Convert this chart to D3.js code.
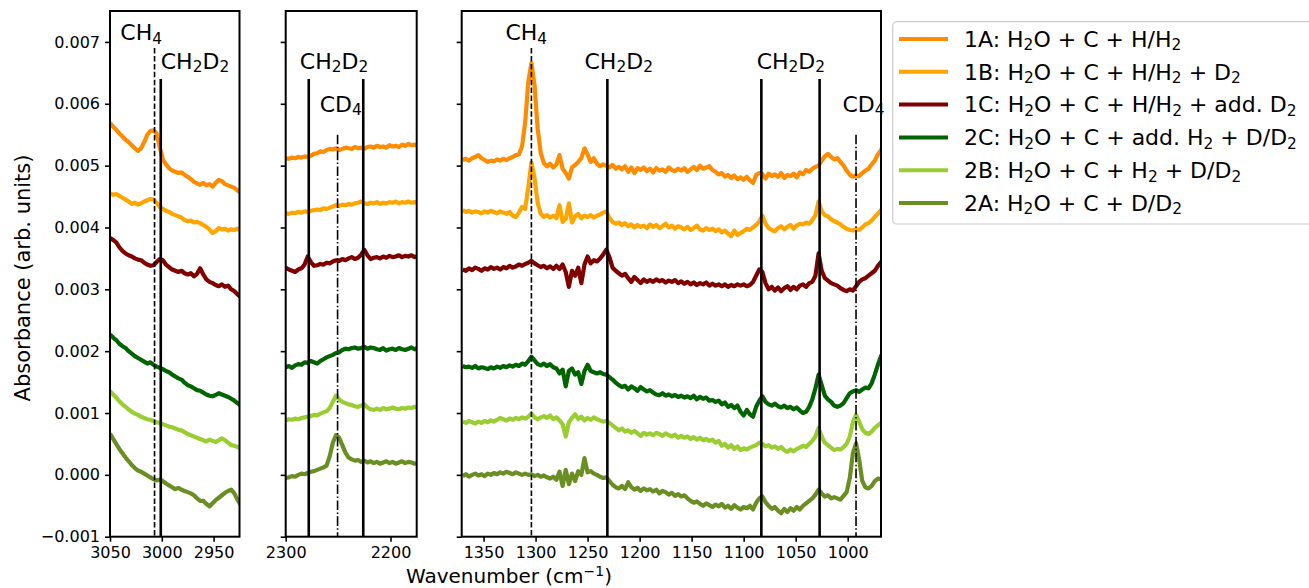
<!DOCTYPE html>
<html>
<head>
<meta charset="utf-8">
<script src="https://cdn.jsdelivr.net/npm/d3@7"></script>
<style>
  body { margin: 0; background: #fff; }
  svg { display: block; }
  text { font-family: "DejaVu Sans", sans-serif; fill: #000; white-space: pre; }
</style>
</head>
<body>
<svg id="chart" width="1309" height="588"></svg>
<script>
// ---------------- DATA (absorbance in units of 1e-3) ----------------
const seriesKeys   = ["1A", "1B", "1C", "2C", "2B", "2A"];
const seriesLabels = [
  "1A: H_{2}O + C + H/H_{2}",
  "1B: H_{2}O + C + H/H_{2} + D_{2}",
  "1C: H_{2}O + C + H/H_{2} + add. D_{2}",
  "2C: H_{2}O + C + add. H_{2} + D/D_{2}",
  "2B: H_{2}O + C + H_{2} + D/D_{2}",
  "2A: H_{2}O + C + D/D_{2}"
];
const absUnit = 1e-3;

// wavenumber grids (cm^-1), 3 cm^-1 spacing
const wn1 = d3.range(3050, 2923, -3);   // 3050 ... 2924
const wn2 = d3.range(2300, 2173, -3);   // 2300 ... 2174
const wn3 = d3.range(1370, 964, -3);    // 1370 ... 965

// Panel 1 (C-H stretch region)
const p1_1A = [5.69,5.63,5.58,5.52,5.47,5.42,5.38,5.33,5.28,5.24, 5.28,5.38,5.50,5.56,5.57,5.52,5.30,5.10,5.02,4.96,
  4.92,4.90,4.88,4.89,4.85,4.82,4.78,4.74,4.71,4.69, 4.72,4.68,4.70,4.66,4.72,4.77,4.75,4.70,4.68,4.66, 4.64,4.60,4.56];
const p1_1B = [4.55,4.53,4.54,4.51,4.48,4.45,4.42,4.38,4.40,4.37, 4.39,4.42,4.44,4.46,4.45,4.40,4.33,4.30,4.27,4.25,
  4.22,4.20,4.18,4.16,4.12,4.10,4.11,4.08,4.09,4.07, 4.04,4.01,3.97,3.91,3.94,3.99,3.97,3.98,3.95,3.97, 3.96,3.98,3.95];
const p1_1C = [3.83,3.80,3.76,3.68,3.62,3.58,3.55,3.53,3.50,3.48, 3.47,3.43,3.40,3.38,3.39,3.44,3.49,3.47,3.40,3.36,
  3.32,3.30,3.28,3.30,3.26,3.24,3.26,3.21,3.25,3.34, 3.24,3.16,3.12,3.10,3.07,3.05,3.08,3.04,3.06,3.00, 2.97,2.92,2.88];
const p1_2C = [2.27,2.22,2.18,2.12,2.08,2.05,2.00,1.96,1.92,1.89, 1.86,1.83,1.80,1.82,1.78,1.75,1.73,1.71,1.68,1.66,
  1.62,1.59,1.56,1.54,1.49,1.45,1.43,1.40,1.37,1.36, 1.33,1.30,1.28,1.27,1.29,1.32,1.30,1.28,1.26,1.23, 1.20,1.16,1.12];
const p1_2B = [1.35,1.30,1.25,1.19,1.14,1.10,1.06,1.02,0.99,0.97, 0.94,0.92,0.90,0.89,0.87,0.85,0.84,0.82,0.80,0.78,
  0.77,0.75,0.73,0.72,0.69,0.66,0.64,0.62,0.60,0.58, 0.56,0.54,0.57,0.55,0.53,0.56,0.59,0.56,0.52,0.48, 0.47,0.45,0.43];
const p1_2A = [0.67,0.58,0.50,0.42,0.35,0.28,0.22,0.16,0.11,0.07, 0.05,0.02,-0.01,-0.04,-0.07,-0.09,-0.08,-0.10,-0.14,-0.17,
  -0.20,-0.23,-0.21,-0.24,-0.26,-0.28,-0.30,-0.33,-0.38,-0.42, -0.42,-0.47,-0.51,-0.46,-0.41,-0.37,-0.33,-0.29,-0.26,-0.24, -0.30,-0.40,-0.48];

// Panel 2 (C-D stretch region)
const p2_1A = [5.12,5.11,5.13,5.12,5.14,5.13,5.15,5.14,5.16,5.19, 5.20,5.23,5.22,5.25,5.27,5.26,5.28,5.25,5.27,5.29,
  5.28,5.27,5.30,5.28,5.29,5.27,5.30,5.31,5.29,5.32, 5.30,5.31,5.29,5.33,5.31,5.32,5.30,5.34,5.32,5.35, 5.33,5.34,5.32];
const p2_1B = [4.23,4.22,4.24,4.23,4.25,4.24,4.26,4.25,4.27,4.28, 4.29,4.28,4.31,4.30,4.32,4.34,4.36,4.35,4.37,4.36,
  4.38,4.37,4.39,4.40,4.42,4.39,4.38,4.40,4.39,4.41, 4.38,4.40,4.39,4.41,4.40,4.42,4.39,4.41,4.40,4.42, 4.40,4.41,4.40];
const p2_1C = [3.35,3.32,3.30,3.28,3.32,3.34,3.40,3.53,3.44,3.38, 3.39,3.41,3.40,3.43,3.42,3.45,3.47,3.46,3.49,3.47,
  3.50,3.52,3.49,3.51,3.56,3.64,3.55,3.49,3.51,3.52, 3.50,3.53,3.51,3.54,3.52,3.53,3.55,3.52,3.54,3.53, 3.55,3.52,3.54];
const p2_2C = [1.74,1.76,1.73,1.77,1.79,1.78,1.82,1.81,1.84,1.82, 1.80,1.84,1.87,1.90,1.92,1.94,1.97,1.98,2.02,2.04,
  2.03,2.05,2.06,2.04,2.05,2.07,2.04,2.06,2.05,2.03, 2.02,2.05,2.01,2.03,2.04,2.02,2.05,2.03,2.02,2.04, 2.06,2.03,2.05];
const p2_2B = [0.88,0.90,0.89,0.91,0.90,0.92,0.93,0.94,0.95,0.97, 0.96,0.99,1.01,1.03,1.08,1.18,1.28,1.22,1.18,1.16,
  1.14,1.13,1.11,1.10,1.12,1.14,1.09,1.06,1.05,1.07, 1.05,1.08,1.06,1.07,1.09,1.07,1.06,1.08,1.07,1.09, 1.08,1.10,1.08];
const p2_2A = [-0.05,-0.04,-0.02,-0.03,0.00,0.02,0.01,0.03,0.05,0.06, 0.08,0.10,0.12,0.15,0.30,0.52,0.64,0.60,0.48,0.36,
  0.28,0.25,0.23,0.24,0.21,0.23,0.20,0.22,0.19,0.21, 0.18,0.20,0.22,0.19,0.21,0.18,0.20,0.22,0.19,0.21, 0.20,0.18,0.19];

// Panel 3 (bending region)
const p3_1A = [5.09,5.11,5.08,5.12,5.14,5.17,5.12,5.09,5.06,5.08, 5.07,5.10,5.08,5.11,5.09,5.12,5.14,5.17,5.18,5.31,
  5.70,6.35,6.66,6.30,5.60,5.20,5.04,4.99,5.03,4.97, 5.02,5.17,4.95,4.88,4.79,4.97,5.01,5.06,5.12,5.28,
  5.18,5.06,5.12,5.03,4.99,5.02,5.00,4.97,5.01,4.95, 4.98,4.94,4.99,4.90,4.97,4.88,4.96,4.93,4.97,4.91,
  4.95,4.89,4.96,4.92,4.94,4.90,4.97,4.93,4.91,4.95, 4.92,4.96,4.90,4.94,4.98,4.93,5.00,4.95,4.97,4.99,
  4.93,4.90,4.86,4.88,4.82,4.85,4.80,4.84,4.78,4.81, 4.77,4.82,4.76,4.72,4.85,4.88,4.86,4.79,4.87,4.83,
  4.86,4.82,4.88,4.80,4.85,4.83,4.87,4.81,4.89,4.86, 4.93,4.90,4.95,4.98,5.00,5.08,5.15,5.19,5.14,5.10,
  5.12,5.06,5.00,4.92,4.85,4.82,4.84,4.83,4.88,4.92, 4.95,5.02,5.08,5.18,5.25,5.38];
const p3_1B = [4.28,4.25,4.27,4.24,4.26,4.25,4.23,4.26,4.24,4.27, 4.25,4.23,4.26,4.24,4.22,4.25,4.19,4.17,4.24,4.33,
  4.30,4.65,5.05,4.80,4.40,4.22,4.17,4.20,4.16,4.19, 4.15,4.36,4.09,4.14,4.39,4.08,4.18,4.22,4.15,4.19,
  4.17,4.20,4.16,4.19,4.21,4.24,4.26,4.15,4.09,4.06, 4.08,4.04,4.07,4.02,4.05,4.00,4.04,4.01,4.03,3.99,
  4.05,4.01,4.04,3.99,4.02,4.06,4.00,4.03,3.98,4.02, 4.00,3.97,4.01,3.96,3.99,4.03,3.97,3.95,3.99,3.96,
  3.98,3.94,3.97,3.92,3.95,3.90,3.86,3.95,3.88,3.91, 3.94,3.98,3.96,4.00,4.04,4.10,4.19,4.06,3.99,3.96,
  3.94,3.99,4.02,3.97,4.01,4.04,3.98,4.03,4.06,4.05, 4.08,4.06,4.12,4.20,4.42,4.26,4.20,4.18,4.13,4.10,
  4.08,4.05,4.01,3.98,3.96,3.95,3.97,3.96,4.00,4.05, 4.07,4.11,4.17,4.22,4.28,4.36];
const p3_1C = [3.32,3.30,3.34,3.31,3.35,3.33,3.30,3.34,3.32,3.36, 3.33,3.35,3.32,3.36,3.34,3.38,3.35,3.37,3.40,3.38,
  3.41,3.43,3.46,3.42,3.39,3.36,3.38,3.34,3.37,3.33, 3.38,3.33,3.40,3.28,3.04,3.30,3.22,3.35,3.10,3.40,
  3.53,3.42,3.47,3.45,3.50,3.56,3.64,3.52,3.35,3.30, 3.26,3.22,3.25,3.18,3.12,3.20,3.15,3.10,3.16,3.12,
  3.15,3.12,3.16,3.13,3.15,3.11,3.14,3.12,3.15,3.10, 3.13,3.09,3.12,3.08,3.11,3.07,3.10,3.08,3.11,3.06,
  3.09,3.06,3.08,3.05,3.08,3.04,3.07,3.05,3.08,3.06, 3.08,3.05,3.07,3.12,3.22,3.32,3.28,3.10,3.00,3.04,
  2.98,3.03,2.97,3.02,3.05,2.99,3.04,3.00,3.06,3.08, 3.04,3.10,3.12,3.22,3.58,3.30,3.18,3.14,3.10,3.08,
  3.06,3.02,2.99,2.97,3.00,2.98,3.05,3.12,3.16,3.18, 3.22,3.26,3.30,3.38,3.44,3.50];
const p3_2C = [1.76,1.74,1.75,1.73,1.76,1.72,1.74,1.73,1.71,1.74, 1.72,1.75,1.73,1.76,1.74,1.77,1.75,1.78,1.76,1.80,
  1.78,1.84,1.91,1.85,1.79,1.77,1.80,1.76,1.79,1.74, 1.72,1.64,1.70,1.43,1.68,1.72,1.62,1.66,1.47,1.68,
  1.78,1.68,1.66,1.64,1.66,1.63,1.62,1.58,1.54,1.49, 1.45,1.42,1.44,1.38,1.43,1.40,1.36,1.42,1.38,1.35,
  1.37,1.33,1.30,1.29,1.32,1.28,1.30,1.27,1.29,1.26, 1.28,1.25,1.27,1.24,1.28,1.22,1.26,1.23,1.25,1.20,
  1.21,1.18,1.20,1.14,1.17,1.10,1.13,1.08,1.12,1.02, 0.96,1.05,0.98,0.94,1.10,1.20,1.27,1.18,1.14,1.12,
  1.15,1.11,1.09,1.12,1.08,1.10,1.06,1.09,1.04,1.00, 1.02,1.10,1.22,1.40,1.62,1.45,1.28,1.22,1.18,1.12,
  1.10,1.12,1.16,1.24,1.32,1.35,1.37,1.34,1.38,1.41, 1.40,1.48,1.62,1.78,1.92,2.02];
const p3_2B = [0.86,0.84,0.87,0.85,0.83,0.86,0.84,0.87,0.85,0.88, 0.86,0.89,0.92,0.90,0.88,0.91,0.89,0.92,0.90,0.93,
  0.91,0.94,0.99,0.93,0.90,0.93,0.95,0.92,0.96,0.90, 0.93,0.88,0.82,0.62,0.85,0.92,0.98,0.90,0.94,0.88,
  0.92,0.89,0.93,0.90,0.88,0.86,0.87,0.84,0.80,0.76, 0.72,0.75,0.70,0.72,0.68,0.71,0.67,0.63,0.68,0.65,
  0.67,0.64,0.68,0.66,0.63,0.67,0.64,0.62,0.65,0.60, 0.63,0.60,0.62,0.58,0.61,0.57,0.60,0.56,0.58,0.55,
  0.57,0.52,0.55,0.47,0.50,0.44,0.48,0.42,0.46,0.40, 0.43,0.41,0.44,0.46,0.48,0.52,0.50,0.46,0.48,0.44,
  0.46,0.42,0.45,0.40,0.37,0.41,0.38,0.42,0.44,0.47, 0.45,0.50,0.55,0.62,0.76,0.62,0.52,0.48,0.44,0.40,
  0.42,0.41,0.45,0.50,0.62,0.85,0.97,0.86,0.74,0.68, 0.66,0.70,0.76,0.80,0.84,0.90];
const p3_2A = [-0.02,0.01,-0.03,0.00,0.02,-0.01,0.01,-0.02,0.02,0.00, 0.03,0.01,0.04,0.02,0.05,0.03,0.01,0.04,0.02,0.00,
  0.02,0.00,0.01,-0.02,0.00,-0.03,-0.01,-0.04,-0.06,-0.03, -0.08,0.05,-0.18,0.08,-0.15,0.02,-0.10,0.06,0.00,0.27,
  0.04,0.06,0.02,0.00,-0.03,-0.05,-0.04,-0.10,-0.16,-0.20, -0.22,-0.18,-0.23,-0.12,-0.20,-0.24,-0.21,-0.26,-0.22,-0.25,
  -0.23,-0.27,-0.24,-0.30,-0.26,-0.28,-0.32,-0.29,-0.34,-0.31, -0.35,-0.33,-0.38,-0.42,-0.45,-0.43,-0.47,-0.50,-0.46,-0.49,
  -0.52,-0.48,-0.51,-0.47,-0.53,-0.50,-0.55,-0.49,-0.53,-0.56, -0.52,-0.54,-0.50,-0.56,-0.45,-0.38,-0.35,-0.44,-0.50,-0.55,
  -0.52,-0.58,-0.62,-0.55,-0.60,-0.54,-0.58,-0.52,-0.56,-0.50, -0.46,-0.42,-0.38,-0.32,-0.24,-0.30,-0.35,-0.33,-0.38,-0.36,
  -0.38,-0.40,-0.34,-0.28,-0.05,0.35,0.51,0.25,-0.10,-0.20, -0.22,-0.18,-0.10,-0.06,-0.07,-0.04];

// axis ticks
const yTicks  = [-0.001, 0.000, 0.001, 0.002, 0.003, 0.004, 0.005, 0.006, 0.007];
const xTicks1 = [3050, 3000, 2950];
const xTicks2 = [2300, 2200];
const xTicks3 = [1350, 1300, 1250, 1200, 1150, 1100, 1050, 1000];

// assignment markers (wavenumber of each band)
const marks1 = [["CH4", 3007], ["CH2D2", 3001]];
const marks2 = [["CH2D2", 2278], ["CD4", 2250.5], ["CH2D2", 2226]];
const marks3 = [["CH4", 1304], ["CH2D2", 1231], ["CH2D2", 1083], ["CH2D2", 1027], ["CD4", 992]];

// band labels: [text, wavenumber of left edge, absorbance of baseline]
const labels1 = [["CH_{4}", 3040, 0.00703], ["CH_{2}D_{2}", 3001, 0.00657]];
const labels2 = [["CH_{2}D_{2}", 2286.5, 0.00657], ["CD_{4}", 2267.5, 0.00587]];
const labels3 = [["CH_{4}", 1329, 0.00703], ["CH_{2}D_{2}", 1253, 0.00657], ["CH_{2}D_{2}", 1087.5, 0.00657], ["CD_{4}", 1005, 0.00587]];

// ---------------- LAYOUT / STYLE ----------------
const colors = {"1A": "#ff8c00", "1B": "#ffa500", "1C": "#800000", "2C": "#006400", "2B": "#9acd32", "2A": "#6b8e23"};
const markTop = {"CH4": 0.0069, "CH2D2": 0.0064, "CD4": 0.0055};
const markDash = {"CH4": "5.5,2.4", "CH2D2": null, "CD4": "9.6,2.4,1.5,2.4"};
const markWidth = {"CH4": 1.6, "CH2D2": 2.6, "CD4": 1.6};

const plotTop = 11, plotBottom = 536.7;
const panels = [
  {x0: 110,   x1: 239.5, dom: [3050, 2925], wn: wn1, ticks: xTicks1, marks: marks1, labels: labels1,
   data: {"1A": p1_1A, "1B": p1_1B, "1C": p1_1C, "2C": p1_2C, "2B": p1_2B, "2A": p1_2A}},
  {x0: 285.7, x1: 416.7, dom: [2300, 2175], wn: wn2, ticks: xTicks2, marks: marks2, labels: labels2,
   data: {"1A": p2_1A, "1B": p2_1B, "1C": p2_1C, "2C": p2_2C, "2B": p2_2B, "2A": p2_2A}},
  {x0: 461.7, x1: 881,   dom: [1371, 968],  wn: wn3, ticks: xTicks3, marks: marks3, labels: labels3,
   data: {"1A": p3_1A, "1B": p3_1B, "1C": p3_1C, "2C": p3_2C, "2B": p3_2B, "2A": p3_2A}}
];

const svg = d3.select("#chart");
const y = d3.scaleLinear().domain([-0.001, 0.0075]).range([plotBottom, plotTop]);
const fmtY = d3.format(".3f");

// rich text with _{sub} and ^{sup}
function rich(sel, str, fs) {
  const re = /([_^])\{([^}]*)\}/g;
  let last = 0, m; const parts = [];
  while ((m = re.exec(str))) {
    if (m.index > last) parts.push({t: str.slice(last, m.index), k: "n"});
    parts.push({t: m[2], k: m[1]});
    last = re.lastIndex;
  }
  if (last < str.length) parts.push({t: str.slice(last), k: "n"});
  let shift = 0;
  parts.forEach(p => {
    const ts = sel.append("tspan").text(p.t);
    const target = p.k === "_" ? 0.16 * fs : (p.k === "^" ? -0.36 * fs : 0);
    if (target !== shift) { ts.attr("dy", target - shift); shift = target; }
    if (p.k !== "n") ts.attr("font-size", fs * 0.7);
  });
}

const defs = svg.append("defs");

panels.forEach((p, pi) => {
  const x = d3.scaleLinear().domain(p.dom).range([p.x0, p.x1]);
  const g = svg.append("g");
  const clipId = "clip" + pi;
  defs.append("clipPath").attr("id", clipId).append("rect")
    .attr("x", p.x0).attr("y", plotTop).attr("width", p.x1 - p.x0).attr("height", plotBottom - plotTop);

  // spectra
  const line = d3.line().x(d => x(d[0])).y(d => y(d[1] * absUnit)).curve(d3.curveLinear);
  const curves = g.append("g").attr("clip-path", `url(#${clipId})`);
  seriesKeys.forEach(k => {
    const vals = p.data[k];
    const pts = p.wn.map((w, i) => [w, vals[i]]);
    curves.append("path").attr("d", line(pts)).attr("fill", "none")
      .attr("stroke", colors[k]).attr("stroke-width", 4.2)
      .attr("stroke-linejoin", "round").attr("stroke-linecap", "butt");
  });

  // marker lines
  p.marks.forEach(([kind, w]) => {
    const l = g.append("line").attr("x1", x(w)).attr("x2", x(w))
      .attr("y1", y(markTop[kind])).attr("y2", plotBottom)
      .attr("stroke", "#000").attr("stroke-width", markWidth[kind]);
    if (markDash[kind]) l.attr("stroke-dasharray", markDash[kind]);
  });

  // band labels
  p.labels.forEach(([txt, w, a]) => {
    const t = g.append("text").attr("x", x(w)).attr("y", y(a)).attr("font-size", 22);
    rich(t, txt, 22);
  });

  // axes
  const ax = g.append("g").attr("transform", `translate(0,${plotBottom})`)
    .call(d3.axisBottom(x).tickValues(p.ticks).tickFormat(d3.format("d")).tickSize(5).tickPadding(5).tickSizeOuter(0));
  const ay = g.append("g").attr("transform", `translate(${p.x0},0)`)
    .call(d3.axisLeft(y).tickValues(yTicks).tickFormat(pi === 0 ? fmtY : "").tickSize(5).tickPadding(5).tickSizeOuter(0));
  [ax, ay].forEach(a => {
    a.select(".domain").remove();
    a.selectAll(".tick line").attr("stroke", "#000").attr("stroke-width", 1.6);
    a.selectAll(".tick text").attr("font-size", 16).attr("font-family", "DejaVu Sans, sans-serif").attr("fill", "#000");
  });

  // frame
  g.append("rect").attr("x", p.x0).attr("y", plotTop).attr("width", p.x1 - p.x0).attr("height", plotBottom - plotTop)
    .attr("fill", "none").attr("stroke", "#000").attr("stroke-width", 2);
});

// axis labels
const xl = svg.append("text").attr("x", 509).attr("y", 583).attr("text-anchor", "middle").attr("font-size", 20);
rich(xl, "Wavenumber (cm^{−1})", 20);
svg.append("text").attr("transform", "translate(30,278) rotate(-90)").attr("text-anchor", "middle")
  .attr("font-size", 21).text("Absorbance (arb. units)");

// legend
const lg = svg.append("g");
lg.append("rect").attr("x", 892.7).attr("y", 21.7).attr("width", 440).attr("height", 202.3).attr("rx", 4)
  .attr("fill", "#fff").attr("stroke", "#cccccc").attr("stroke-width", 1.2);
seriesKeys.forEach((k, i) => {
  const cy = 39 + i * 32.8;
  lg.append("line").attr("x1", 899).attr("x2", 948).attr("y1", cy).attr("y2", cy)
    .attr("stroke", colors[k]).attr("stroke-width", 4);
  const t = lg.append("text").attr("x", 964).attr("y", cy + 7.8).attr("font-size", 22);
  rich(t, seriesLabels[i], 22);
});
</script>
</body>
</html>
